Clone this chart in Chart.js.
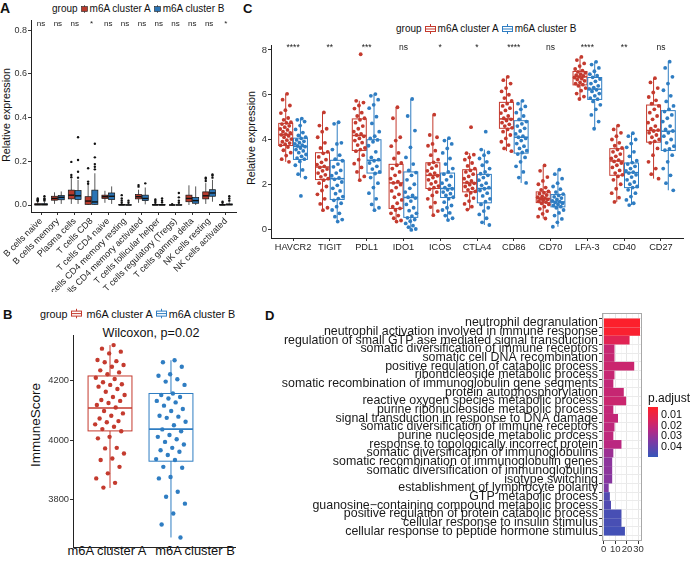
<!DOCTYPE html>
<html>
<head>
<meta charset="utf-8">
<title>m6A clusters</title>
<script src="https://cdn.jsdelivr.net/npm/chart.js@4.4.1/dist/chart.umd.min.js"></script>
<style>
  body { margin: 0; width: 691px; height: 563px; position: relative; overflow: hidden; background: #fff;
         font-family: "Liberation Sans", Arial, sans-serif; color: #111; }
  canvas { position: absolute; }
  .txt { position: absolute; white-space: nowrap; line-height: 1; }
  .mid { transform: translate(-50%, -50%); }
  .rot { transform: translate(-50%, -50%) rotate(-90deg); }
  .tag { position: absolute; font-weight: bold; font-size: 13px; line-height: 1; }
  .legend { position: absolute; display: flex; align-items: center; white-space: nowrap; line-height: 1;
            transform: translateY(-50%); }
  .legend svg { margin: 0 2px 0 3px; }
</style>
</head>
<body>

<!-- panel A -->
<div class="tag" style="left:0px;top:1px;font-size:14px">A</div>
<div class="legend" style="left:52px;top:9px;font-size:10px">group
  <svg width="7" height="8"><line x1="3.5" y1="0" x2="3.5" y2="8" stroke="#222" stroke-width="0.6"/><rect x="0.5" y="1.5" width="6" height="5" fill="#B83A2C" stroke="#222" stroke-width="0.6"/></svg>m6A cluster A
  <svg width="7" height="8"><line x1="3.5" y1="0" x2="3.5" y2="8" stroke="#222" stroke-width="0.6"/><rect x="0.5" y="1.5" width="6" height="5" fill="#2B74B5" stroke="#222" stroke-width="0.6"/></svg>m6A cluster B
</div>
<div class="txt rot" style="left:6px;top:115px;font-size:10.8px">Relative expression</div>
<canvas id="chartA" width="240" height="292" style="left:0;top:0"></canvas>

<!-- panel C -->
<div class="tag" style="left:243px;top:2px">C</div>
<div class="legend" style="left:396px;top:29px;font-size:10px">group
  <svg width="11" height="10"><line x1="5.5" y1="0" x2="5.5" y2="10" stroke="#C43A2E"/><rect x="0.5" y="2.5" width="10" height="5" fill="#fff" stroke="#C43A2E"/><line x1="0.5" y1="5" x2="10.5" y2="5" stroke="#C43A2E"/></svg>m6A cluster A
  <svg width="11" height="10"><line x1="5.5" y1="0" x2="5.5" y2="10" stroke="#2F7DC2"/><rect x="0.5" y="2.5" width="10" height="5" fill="#fff" stroke="#2F7DC2"/><line x1="0.5" y1="5" x2="10.5" y2="5" stroke="#2F7DC2"/></svg>m6A cluster B
</div>
<div class="txt rot" style="left:251px;top:138px;font-size:10.8px">Relative expression</div>
<canvas id="chartC" width="451" height="292" style="left:240px;top:0"></canvas>

<!-- panel B -->
<div class="tag" style="left:3px;top:308px">B</div>
<div class="legend" style="left:40px;top:314px;font-size:10.8px">group
  <svg width="11" height="10"><line x1="5.5" y1="0" x2="5.5" y2="10" stroke="#C43A2E"/><rect x="0.5" y="2.5" width="10" height="5" fill="#fff" stroke="#C43A2E"/><line x1="0.5" y1="5" x2="10.5" y2="5" stroke="#C43A2E"/></svg>&nbsp;m6A cluster A
  <svg width="11" height="10"><line x1="5.5" y1="0" x2="5.5" y2="10" stroke="#2F7DC2"/><rect x="0.5" y="2.5" width="10" height="5" fill="#fff" stroke="#2F7DC2"/><line x1="0.5" y1="5" x2="10.5" y2="5" stroke="#2F7DC2"/></svg>m6A cluster B
</div>
<div class="txt mid" style="left:151px;top:333px;font-size:12.6px">Wilcoxon, p=0.02</div>
<div class="txt rot" style="left:36px;top:425px;font-size:13.5px">ImmuneScore</div>
<div class="txt mid" style="left:107px;top:551px;font-size:12.9px">m6A cluster A</div>
<div class="txt mid" style="left:195px;top:551px;font-size:12.9px">m6A cluster B</div>
<canvas id="chartB" width="240" height="271" style="left:0;top:292px"></canvas>

<!-- panel D -->
<div class="tag" style="left:265px;top:309px">D</div>
<canvas id="chartD" width="461" height="271" style="left:230px;top:292px"></canvas>
<div class="txt" style="left:648px;top:392px;font-size:12px">p.adjust</div>
<div id="colorbar" style="position:absolute;left:648px;top:407px;width:10px;height:50px"></div>
<div class="txt" style="left:661px;top:414px;font-size:10.8px;transform:translateY(-50%)">0.01</div>
<div class="txt" style="left:661px;top:424.5px;font-size:10.8px;transform:translateY(-50%)">0.02</div>
<div class="txt" style="left:661px;top:435px;font-size:10.8px;transform:translateY(-50%)">0.03</div>
<div class="txt" style="left:661px;top:445.7px;font-size:10.8px;transform:translateY(-50%)">0.04</div>

<script>
// ---------- data ----------

// A: immune cell fractions, box stats are [min, q1, median, q3, max]
const cellTypes = ['B cells naive', 'B cells memory', 'Plasma cells', 'T cells CD8', 'T cells CD4 naive',
  'T cells CD4 memory resting', 'T cells CD4 memory activated', 'T cells follicular helper',
  'T cells regulatory (Tregs)', 'T cells gamma delta', 'NK cells resting', 'NK cells activated'];
const cellSig = ['ns', 'ns', 'ns', '*', 'ns', 'ns', 'ns', 'ns', 'ns', 'ns', 'ns', '*'];
const cellBoxA = [[0, 0, 0.002, 0.006, 0.014], [0.005, 0.022, 0.03, 0.04, 0.058], [0.005, 0.028, 0.045, 0.068, 0.12],
  [0, 0.003, 0.018, 0.038, 0.095], [0.01, 0.03, 0.038, 0.045, 0.065], [0, 0, 0, 0.002, 0.004],
  [0.01, 0.028, 0.038, 0.048, 0.07], [0, 0, 0, 0.002, 0.005], [0, 0, 0, 0, 0.001],
  [0, 0.015, 0.03, 0.045, 0.09], [0.005, 0.028, 0.042, 0.06, 0.1], [0, 0, 0, 0.002, 0.005]];
const cellBoxB = [[0, 0, 0.002, 0.006, 0.014], [0.005, 0.024, 0.035, 0.043, 0.062], [0.005, 0.025, 0.042, 0.066, 0.115],
  [0, 0.003, 0.014, 0.068, 0.145], [0.005, 0.025, 0.04, 0.055, 0.085], [0, 0, 0, 0.001, 0.003],
  [0.003, 0.02, 0.03, 0.045, 0.08], [0, 0, 0, 0.002, 0.005], [0, 0, 0, 0.001, 0.003],
  [0, 0.008, 0.02, 0.035, 0.085], [0.015, 0.04, 0.055, 0.07, 0.115], [0, 0, 0.002, 0.005, 0.012]];
const cellOutA = [[0.018, 0.022, 0.025, 0.03], [], [0.127, 0.137, 0.197], [0.097, 0.107, 0.168],
  [], [0.01, 0.02, 0.03, 0.045], [0.084, 0.091], [0.01, 0.018, 0.025], [0.004],
  [], [0.11, 0.12, 0.125], [0.01, 0.015]];
const cellOutB = [[0.02, 0.025, 0.03, 0.04], [], [0.125, 0.152, 0.206, 0.31], [0.163, 0.175, 0.187, 0.218, 0.28],
  [], [0.01, 0.02], [0.099], [0.012, 0.02, 0.03], [0.01, 0.02, 0.035, 0.055],
  [], [0.125, 0.135, 0.14], [0.02, 0.03, 0.04]];

// C: immune checkpoint genes
const genes = ['HAVCR2', 'TIGIT', 'PDL1', 'IDO1', 'ICOS', 'CTLA4', 'CD86', 'CD70', 'LFA-3', 'CD40', 'CD27'];
const geneSig = ['****', '**', '***', 'ns', '*', '*', '****', 'ns', '****', '**', 'ns'];
const geneBoxA = [[3.0, 3.73, 4.22, 4.72, 6.04], [0.84, 2.21, 2.77, 3.41, 5.21], [2.18, 3.51, 4.18, 4.92, 5.73],
  [0.33, 0.92, 2.06, 2.89, 5.44], [0.62, 1.81, 2.40, 2.96, 5.11], [0.87, 1.66, 2.06, 2.65, 3.39],
  [3.48, 4.5, 4.92, 5.66, 6.8], [0.47, 1.18, 1.36, 1.66, 2.84], [5.81, 6.44, 6.8, 7.04, 7.69],
  [1.21, 2.4, 3.04, 3.59, 4.62], [2.25, 3.88, 4.4, 5.54, 6.74]];
const geneBoxB = [[2.3, 3.11, 3.69, 4.06, 4.93], [0.33, 1.32, 2.25, 3.07, 4.77], [0.84, 2.5, 3.07, 3.99, 6.03],
  [-0.04, 0.52, 1.41, 2.55, 5.81], [0.4, 1.41, 1.81, 2.5, 4.06], [0.18, 1.17, 1.81, 2.44, 3.55],
  [2.06, 3.39, 4.1, 4.84, 5.73], [0.1, 0.99, 1.21, 1.54, 2.65], [4.48, 5.79, 6.25, 6.77, 7.47],
  [1.07, 1.85, 2.52, 2.95, 4.28], [1.73, 3.51, 4.37, 5.29, 7.48]];
const genePtsA = [
  [6.04, 5.78, 5.52, 5.31, 5.18, 4.96, 4.88, 4.77, 4.74, 4.69, 4.61, 4.55, 4.47, 4.43, 4.35, 4.29, 4.24, 4.21, 4.16, 4.1, 4.02, 3.97, 3.9, 3.84, 3.79, 3.74, 3.66, 3.52, 3.41, 3.28, 3.12, 3.0],
  [5.21, 4.62, 4.48, 4.35, 4.1, 3.85, 3.62, 3.45, 3.38, 3.22, 3.1, 2.98, 2.88, 2.8, 2.75, 2.68, 2.6, 2.5, 2.42, 2.33, 2.25, 2.18, 2.05, 1.9, 1.72, 1.55, 1.35, 1.12, 0.95, 0.84],
  [7.81, 5.73, 5.65, 5.52, 5.38, 5.2, 5.05, 4.95, 4.88, 4.75, 4.6, 4.48, 4.35, 4.25, 4.2, 4.14, 4.05, 3.95, 3.86, 3.75, 3.62, 3.55, 3.48, 3.3, 3.1, 2.92, 2.75, 2.55, 2.35, 2.18],
  [5.44, 4.95, 4.1, 3.95, 3.7, 3.4, 3.15, 2.95, 2.85, 2.7, 2.55, 2.4, 2.25, 2.12, 2.06, 1.98, 1.85, 1.7, 1.55, 1.42, 1.3, 1.15, 1.0, 0.92, 0.85, 0.7, 0.6, 0.48, 0.38, 0.33],
  [5.11, 4.2, 4.1, 3.8, 3.72, 3.5, 3.3, 3.1, 2.98, 2.9, 2.82, 2.72, 2.6, 2.5, 2.44, 2.38, 2.3, 2.2, 2.1, 2.02, 1.92, 1.85, 1.78, 1.65, 1.5, 1.35, 1.18, 0.98, 0.8, 0.62],
  [4.55, 3.39, 3.32, 3.2, 3.1, 2.95, 2.82, 2.7, 2.62, 2.55, 2.45, 2.35, 2.25, 2.15, 2.08, 2.04, 1.98, 1.9, 1.82, 1.75, 1.68, 1.62, 1.5, 1.38, 1.25, 1.12, 1.0, 0.87],
  [6.8, 6.65, 6.5, 6.3, 6.15, 6.0, 5.85, 5.72, 5.6, 5.5, 5.4, 5.3, 5.18, 5.05, 4.95, 4.9, 4.85, 4.75, 4.68, 4.6, 4.52, 4.45, 4.35, 4.2, 4.05, 3.9, 3.75, 3.6, 3.48],
  [2.84, 2.6, 2.32, 2.15, 2.0, 1.85, 1.75, 1.68, 1.62, 1.58, 1.52, 1.46, 1.42, 1.38, 1.35, 1.32, 1.28, 1.24, 1.2, 1.15, 1.1, 1.0, 0.9, 0.8, 0.68, 0.55, 0.47],
  [7.69, 7.55, 7.4, 7.28, 7.15, 7.08, 7.02, 6.98, 6.92, 6.88, 6.84, 6.8, 6.77, 6.72, 6.68, 6.62, 6.55, 6.5, 6.45, 6.4, 6.3, 6.18, 6.05, 5.92, 5.81],
  [4.62, 4.45, 4.3, 4.15, 4.0, 3.85, 3.72, 3.62, 3.55, 3.45, 3.35, 3.25, 3.15, 3.08, 3.02, 2.95, 2.85, 2.75, 2.62, 2.5, 2.42, 2.35, 2.2, 2.0, 1.8, 1.6, 1.4, 1.21],
  [6.74, 6.55, 6.3, 6.1, 5.9, 5.75, 5.6, 5.5, 5.35, 5.2, 5.05, 4.9, 4.75, 4.6, 4.48, 4.42, 4.38, 4.3, 4.2, 4.1, 4.0, 3.92, 3.85, 3.6, 3.3, 3.0, 2.7, 2.45, 2.25]
];
const genePtsB = [
  [4.93, 4.88, 4.8, 4.62, 4.45, 4.31, 4.18, 4.1, 4.05, 3.98, 3.92, 3.86, 3.8, 3.75, 3.71, 3.68, 3.62, 3.55, 3.49, 3.41, 3.33, 3.25, 3.17, 3.12, 3.02, 2.85, 2.64, 2.45, 2.3, 1.48],
  [4.77, 4.7, 3.85, 3.8, 3.55, 3.3, 3.12, 3.05, 2.9, 2.78, 2.62, 2.5, 2.38, 2.28, 2.22, 2.1, 1.95, 1.82, 1.7, 1.58, 1.45, 1.36, 1.28, 1.15, 1.0, 0.85, 0.7, 0.55, 0.42, 0.33],
  [6.03, 5.95, 5.78, 5.55, 5.4, 5.02, 4.72, 4.35, 4.15, 4.05, 3.98, 3.9, 3.72, 3.45, 3.2, 3.1, 3.05, 2.95, 2.8, 2.68, 2.55, 2.48, 2.3, 2.05, 1.85, 1.6, 1.35, 1.1, 0.95, 0.84],
  [5.81, 5.05, 4.4, 3.65, 3.2, 2.9, 2.62, 2.52, 2.4, 2.2, 2.0, 1.82, 1.65, 1.5, 1.42, 1.38, 1.25, 1.1, 0.95, 0.82, 0.7, 0.58, 0.5, 0.42, 0.35, 0.25, 0.15, 0.08, 0.0, -0.04],
  [4.06, 3.95, 3.8, 3.6, 3.4, 3.15, 2.9, 2.7, 2.55, 2.45, 2.35, 2.2, 2.05, 1.95, 1.85, 1.8, 1.75, 1.65, 1.58, 1.5, 1.42, 1.35, 1.2, 1.05, 0.95, 0.85, 0.72, 0.6, 0.48, 0.4],
  [4.35, 3.55, 3.42, 3.3, 3.15, 3.0, 2.85, 2.7, 2.55, 2.47, 2.4, 2.3, 2.18, 2.05, 1.95, 1.85, 1.8, 1.72, 1.6, 1.48, 1.35, 1.22, 1.1, 0.95, 0.8, 0.65, 0.48, 0.3, 0.18],
  [5.73, 5.6, 5.48, 5.35, 5.2, 5.05, 4.9, 4.8, 4.7, 4.6, 4.5, 4.38, 4.25, 4.15, 4.1, 4.05, 3.95, 3.82, 3.7, 3.6, 3.5, 3.42, 3.35, 3.2, 3.0, 2.8, 2.55, 2.3, 2.06],
  [2.65, 2.45, 2.25, 2.05, 1.9, 1.78, 1.65, 1.56, 1.5, 1.44, 1.38, 1.32, 1.26, 1.22, 1.19, 1.15, 1.1, 1.05, 1.0, 0.95, 0.85, 0.72, 0.6, 0.45, 0.3, 0.1],
  [7.47, 7.35, 7.2, 7.05, 6.92, 6.85, 6.78, 6.7, 6.6, 6.5, 6.4, 6.32, 6.26, 6.22, 6.15, 6.05, 5.95, 5.85, 5.8, 5.7, 5.55, 5.35, 5.1, 4.8, 4.48],
  [4.28, 4.15, 4.0, 3.82, 3.65, 3.45, 3.25, 3.05, 2.97, 2.9, 2.8, 2.7, 2.6, 2.54, 2.5, 2.42, 2.32, 2.2, 2.1, 2.0, 1.9, 1.85, 1.75, 1.6, 1.45, 1.3, 1.15, 1.07],
  [7.48, 7.2, 6.8, 6.5, 6.2, 5.95, 5.7, 5.5, 5.35, 5.25, 5.1, 4.95, 4.8, 4.6, 4.45, 4.38, 4.3, 4.15, 4.0, 3.85, 3.7, 3.58, 3.52, 3.3, 3.0, 2.7, 2.4, 2.05, 1.73]
];

// B: ImmuneScore
const scoreGroups = ['m6A cluster A', 'm6A cluster B'];
const scoreBox = [[3839, 4031, 4108, 4216, 4320], [3672, 3929, 4037, 4157, 4269]];
const scorePtsA = [4320, 4308, 4298, 4292, 4270, 4266, 4262, 4253, 4247, 4235, 4228, 4222, 4210, 4206, 4195, 4188,
  4186, 4180, 4172, 4163, 4152, 4145, 4135, 4132, 4125, 4118, 4110, 4098, 4090, 4082, 4073, 4064, 4060, 4053, 4045,
  4037, 4030, 4011, 4006, 3974, 3972, 3955, 3938, 3933, 3910, 3888, 3871, 3856, 3840];
const scorePtsB = [4269, 4262, 4247, 4222, 4217, 4205, 4197, 4186, 4157, 4152, 4145, 4140, 4132, 4127, 4116, 4105,
  4098, 4082, 4079, 4075, 4062, 4050, 4036, 4030, 4017, 4011, 4003, 3994, 3985, 3974, 3966, 3961, 3950, 3936, 3933,
  3910, 3907, 3876, 3871, 3826, 3809, 3786, 3753, 3716, 3672];

// D: GO enrichment
const goTerms = ['neutrophil degranulation', 'neutrophil activation involved in immune response',
  'regulation of small GTP ase mediated signal transduction', 'somatic diversification of immune receptors',
  'somatic cell DNA recombination', 'positive regulation of catabolic process', 'ribonucleoside metabolic process',
  'somatic recombination of immunoglobulin gene segments', 'protein autophosphorylation',
  'reactive oxygen species metabolic process', 'purine ribonucleoside metabolic process',
  'signal transduction in response to DNA damage', 'somatic diversification of immune receptors',
  'purine nucleoside metabolic process', 'response to topologically incorrect protein',
  'somatic diversification of immunoglobulins', 'somatic recombination of immunoglobulin genes',
  'somatic diversification of immunoglobulins', 'isotype switching', 'establishment of lymphocyte polarity',
  'GTP metabolic process', 'guanosine\u2212containing compound metabolic process',
  'positive regulation of protein catabolic process', 'cellular response to insulin stimulus',
  'cellular response to peptide hormone stimulus'];
const goCount = [31, 31, 22, 9, 9, 26, 9, 8, 17, 19, 8, 12, 9, 8, 15, 8, 7, 7, 7, 4, 5, 6, 15, 15, 18];
const goPadj = [0.004, 0.005, 0.014, 0.021, 0.021, 0.02, 0.021, 0.022, 0.021, 0.02, 0.022, 0.022, 0.023, 0.023,
  0.024, 0.03, 0.033, 0.033, 0.034, 0.036, 0.045, 0.045, 0.047, 0.047, 0.048];

// ---------- helpers ----------

const RED = '#C43A2E';
const BLUE = '#2F7DC2';
const RED_FILL = '#B83A2C';
const BLUE_FILL = '#2B74B5';

Chart.defaults.font.family = '"Liberation Sans", Arial, sans-serif';
Chart.defaults.color = '#333';
Chart.defaults.animation = false;

// fixed jitter offsets in [-0.5, 0.5)
const jitter = i => ((i + 1) * 0.6180339887) % 1 - 0.5;

function jitterPoints(lists, shift, spread) {
  const out = [];
  lists.forEach((vals, k) => {
    vals.forEach((v, i) => out.push({ x: k + 1 + shift + jitter(i) * spread, y: v }));
  });
  return out;
}

function boxPlugin(items) {
  return {
    id: 'boxes',
    beforeDatasetsDraw(chart) {
      const { ctx, scales: { x, y } } = chart;
      ctx.save();
      items.forEach(b => {
        const xc = x.getPixelForValue(b.x);
        const x0 = x.getPixelForValue(b.x - b.w / 2);
        const x1 = x.getPixelForValue(b.x + b.w / 2);
        const [lo, q1, md, q3, hi] = b.s.map(v => y.getPixelForValue(v));
        ctx.strokeStyle = b.line;
        ctx.lineWidth = b.lw;
        ctx.beginPath();
        ctx.moveTo(xc, q3); ctx.lineTo(xc, hi);
        ctx.moveTo(xc, q1); ctx.lineTo(xc, lo);
        ctx.stroke();
        if (b.fill) {
          ctx.fillStyle = b.fill;
          ctx.fillRect(x0, q3, x1 - x0, q1 - q3);
        }
        ctx.strokeRect(x0, q3, x1 - x0, q1 - q3);
        ctx.lineWidth = b.mw;
        ctx.beginPath();
        ctx.moveTo(x0, md); ctx.lineTo(x1, md);
        ctx.stroke();
      });
      ctx.restore();
    }
  };
}

function sigPlugin(labels, yValue, size) {
  return {
    id: 'sig',
    afterDatasetsDraw(chart) {
      const { ctx, scales: { x, y } } = chart;
      ctx.save();
      ctx.font = size + 'px "Liberation Sans", Arial, sans-serif';
      ctx.fillStyle = '#222';
      ctx.textAlign = 'center';
      ctx.textBaseline = 'middle';
      labels.forEach((t, i) => ctx.fillText(t, x.getPixelForValue(i + 1), y.getPixelForValue(yValue)));
      ctx.restore();
    }
  };
}

const framePlugin = {
  id: 'frame',
  afterDatasetsDraw(chart) {
    const { ctx, chartArea: a } = chart;
    ctx.save();
    ctx.strokeStyle = '#a8a8a8';
    ctx.lineWidth = 1;
    ctx.strokeRect(a.left + 0.5, a.top + 0.5, a.right - a.left - 1, a.bottom - a.top - 1);
    ctx.restore();
  }
};

function classicGrid() {
  return { display: true, drawOnChartArea: false, drawTicks: true, tickLength: 3, tickColor: '#333' };
}

const baseOptions = {
  responsive: false,
  devicePixelRatio: 1,
  events: [],
  plugins: { legend: { display: false }, tooltip: { enabled: false } }
};

// ---------- panel A ----------

const aItems = [];
cellTypes.forEach((_, k) => {
  aItems.push({ x: k + 0.8, w: 0.36, s: cellBoxA[k], line: '#111', fill: RED_FILL, lw: 0.7, mw: 1.4 });
  aItems.push({ x: k + 1.2, w: 0.36, s: cellBoxB[k], line: '#111', fill: BLUE_FILL, lw: 0.7, mw: 1.4 });
});

new Chart(document.getElementById('chartA'), {
  type: 'scatter',
  data: {
    datasets: [{
      data: jitterPoints(cellOutA, -0.2, 0).concat(jitterPoints(cellOutB, 0.2, 0)),
      pointRadius: 1.2,
      pointBackgroundColor: '#111',
      pointBorderWidth: 0
    }]
  },
  plugins: [boxPlugin(aItems), sigPlugin(cellSig, 0.827, 8)],
  options: Object.assign({}, baseOptions, {
    layout: { padding: { top: 20, right: 0, left: 0, bottom: 0 } },
    scales: {
      x: {
        type: 'linear', min: 0.4, max: 12.6,
        afterBuildTicks: s => { s.ticks = cellTypes.map((_, i) => ({ value: i + 1 })); },
        afterFit: s => { s.height = 80; },
        grid: classicGrid(),
        border: { display: true, color: '#222', width: 1 },
        ticks: { autoSkip: false, minRotation: 45, maxRotation: 45, padding: 1, color: '#222',
                 font: { size: 9 }, callback: v => cellTypes[v - 1] }
      },
      y: {
        type: 'linear', min: -0.032, max: 0.846,
        afterBuildTicks: s => { s.ticks = [0, 0.2, 0.4, 0.6, 0.8].map(v => ({ value: v })); },
        afterFit: s => { s.width = 31; },
        grid: classicGrid(),
        border: { display: true, color: '#222', width: 1 },
        ticks: { padding: 1, color: '#333', font: { size: 9 }, callback: v => v.toFixed(1) }
      }
    }
  })
});

// ---------- panel C ----------

const cItems = [];
genes.forEach((_, k) => {
  cItems.push({ x: k + 0.8, w: 0.38, s: geneBoxA[k], line: RED, lw: 1, mw: 1.5 });
  cItems.push({ x: k + 1.2, w: 0.38, s: geneBoxB[k], line: BLUE, lw: 1, mw: 1.5 });
});

new Chart(document.getElementById('chartC'), {
  type: 'scatter',
  data: {
    datasets: [
      { data: jitterPoints(genePtsA, -0.2, 0.32), pointRadius: 1.9, pointBackgroundColor: RED, pointBorderWidth: 0 },
      { data: jitterPoints(genePtsB, 0.2, 0.32), pointRadius: 1.9, pointBackgroundColor: BLUE, pointBorderWidth: 0 }
    ]
  },
  plugins: [boxPlugin(cItems), sigPlugin(geneSig, 8.09, 8.5)],
  options: Object.assign({}, baseOptions, {
    layout: { padding: { top: 45, right: 8, left: 0, bottom: 0 } },
    scales: {
      x: {
        type: 'linear', min: 0.4, max: 11.6,
        afterBuildTicks: s => { s.ticks = genes.map((_, i) => ({ value: i + 1 })); },
        afterFit: s => { s.height = 54; },
        grid: classicGrid(),
        border: { display: true, color: '#222', width: 1 },
        ticks: { autoSkip: false, maxRotation: 0, padding: 1, color: '#222', font: { size: 9.2 },
                 callback: v => genes[v - 1] }
      },
      y: {
        type: 'linear', min: -0.402, max: 8.223,
        afterBuildTicks: s => { s.ticks = [0, 2, 4, 6, 8].map(v => ({ value: v })); },
        afterFit: s => { s.width = 31; },
        grid: classicGrid(),
        border: { display: true, color: '#222', width: 1 },
        ticks: { padding: 1, color: '#333', font: { size: 9.5 } }
      }
    }
  })
});

// ---------- panel B ----------

const bItems = [
  { x: 1, w: 0.72, s: scoreBox[0], line: RED, lw: 1, mw: 1.6 },
  { x: 2, w: 0.72, s: scoreBox[1], line: BLUE, lw: 1, mw: 1.6 }
];

new Chart(document.getElementById('chartB'), {
  type: 'scatter',
  data: {
    datasets: [
      { data: jitterPoints([scorePtsA], 0, 0.5), pointRadius: 2.2, pointBackgroundColor: RED, pointBorderWidth: 0 },
      { data: jitterPoints([[], scorePtsB], 0, 0.5), pointRadius: 2.2, pointBackgroundColor: BLUE, pointBorderWidth: 0 }
    ]
  },
  plugins: [boxPlugin(bItems)],
  options: Object.assign({}, baseOptions, {
    layout: { padding: { top: 43, right: 5, left: 0, bottom: 0 } },
    scales: {
      x: {
        type: 'linear', min: 0.393, max: 3.05,
        afterBuildTicks: s => { s.ticks = scoreGroups.map((_, i) => ({ value: i + 1 })); },
        afterFit: s => { s.height = 16; },
        grid: classicGrid(),
        border: { display: true, color: '#222', width: 1 },
        ticks: { display: true, color: 'rgba(0,0,0,0)', font: { size: 1 }, callback: () => '' }
      },
      y: {
        type: 'linear', min: 3640, max: 4354,
        afterBuildTicks: s => { s.ticks = [3800, 4000, 4200].map(v => ({ value: v })); },
        afterFit: s => { s.width = 73; },
        grid: classicGrid(),
        border: { display: true, color: '#222', width: 1 },
        ticks: { padding: 1, color: '#333', font: { size: 9.3 }, callback: v => String(v) }
      }
    }
  })
});

// ---------- panel D ----------

const padjStops = [
  [0.003, [255, 32, 40]],
  [0.015, [222, 36, 88]],
  [0.025, [182, 40, 132]],
  [0.035, [130, 56, 162]],
  [0.051, [52, 86, 186]]
];

function padjColor(p) {
  let i = 0;
  while (i < padjStops.length - 2 && p > padjStops[i + 1][0]) i++;
  const [p0, c0] = padjStops[i];
  const [p1, c1] = padjStops[i + 1];
  const t = Math.min(1, Math.max(0, (p - p0) / (p1 - p0)));
  const c = c0.map((v, j) => Math.round(v + (c1[j] - v) * t));
  return 'rgb(' + c.join(',') + ')';
}

document.getElementById('colorbar').style.background =
  'linear-gradient(to bottom,' + padjStops.map(s => padjColor(s[0]) + ' ' +
  ((s[0] - 0.003) / (0.051 - 0.003) * 100).toFixed(1) + '%').join(',') + ')';

new Chart(document.getElementById('chartD'), {
  type: 'bar',
  data: {
    datasets: [{
      data: goCount.map((v, i) => ({ x: v, y: i + 1 })),
      backgroundColor: goPadj.map(padjColor),
      barThickness: 8
    }]
  },
  plugins: [framePlugin],
  options: Object.assign({}, baseOptions, {
    indexAxis: 'y',
    layout: { padding: { top: 21, right: 49, left: 0, bottom: 0 } },
    scales: {
      x: {
        type: 'linear', min: -1.5, max: 33,
        afterBuildTicks: s => { s.ticks = [0, 5, 10, 15, 20, 25, 30].map(v => ({ value: v })); },
        afterFit: s => { s.height = 22; },
        grid: {
          display: true, drawTicks: true, tickLength: 3,
          color: c => (c.tick && c.tick.value % 10 === 0) ? '#e6e6e6' : '#f3f3f3',
          lineWidth: c => (c.tick && c.tick.value % 10 === 0) ? 1 : 0.6,
          tickColor: c => (c.tick && c.tick.value % 10 === 0) ? '#333' : 'rgba(0,0,0,0)'
        },
        border: { display: false },
        ticks: { autoSkip: false, padding: 0, color: '#333', font: { size: 9.5 }, maxRotation: 0,
                 callback: v => (v % 10 === 0 ? String(v) : '') }
      },
      y: {
        type: 'linear', reverse: true, min: 0.4, max: 25.6,
        afterBuildTicks: s => { s.ticks = goTerms.map((_, i) => ({ value: i + 1 })); },
        afterFit: s => { s.width = 372; },
        grid: { display: true, drawTicks: true, tickLength: 3, color: '#ebebeb', tickColor: '#333' },
        border: { display: false },
        ticks: { autoSkip: false, padding: 1, color: '#1a1a1a', font: { size: 12.4 },
                 callback: v => goTerms[v - 1] }
      }
    }
  })
});
</script>
</body>
</html>
